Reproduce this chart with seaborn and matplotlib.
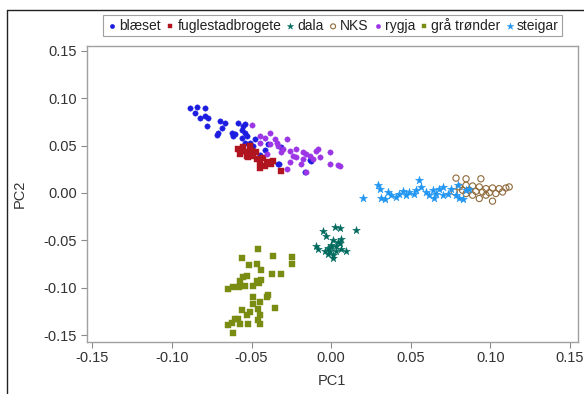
import matplotlib
matplotlib.use("Agg")
import matplotlib.pyplot as plt
from matplotlib.lines import Line2D
import seaborn as sns
import pandas as pd

# ---- data (PC1, PC2) per breed ----
blaeset_x = [-0.0886, -0.0844, -0.0792, -0.0855, -0.0823, -0.0792, -0.0773, -0.0781, -0.0698, -0.0667,
             -0.0688, -0.0710, -0.0719, -0.0625, -0.0604, -0.0617, -0.0585, -0.0542, -0.0542, -0.0531,
             -0.0510, -0.0540, -0.0398, -0.0416, -0.0448, -0.0335, -0.0312, -0.0135, -0.0166, -0.0480,
             -0.0560, -0.0554, -0.0562, -0.0490, -0.0329, -0.0128]
blaeset_y = [0.0896, 0.0906, 0.0896, 0.0844, 0.0790, 0.0810, 0.0790, 0.0710, 0.0760, 0.0740,
             0.0690, 0.0635, 0.0608, 0.0635, 0.0618, 0.0604, 0.0740, 0.0722, 0.0635, 0.0604,
             0.0530, 0.0530, 0.0514, 0.0448, 0.0396, 0.0305, 0.0480, 0.0344, 0.0220, 0.0570,
             0.0660, 0.0708, 0.0580, 0.0500, 0.0300, 0.0340]

fugl_x = [-0.0584, -0.0552, -0.0510, -0.0531, -0.0521, -0.0490, -0.0468, -0.0448, -0.0406, -0.0416,
          -0.0448, -0.0364, -0.0312, -0.0500, -0.0562, -0.0531, -0.0575, -0.0470, -0.0430, -0.0380]
fugl_y = [0.0462, 0.0480, 0.0497, 0.0427, 0.0375, 0.0392, 0.0358, 0.0323, 0.0323, 0.0288,
          0.0260, 0.0340, 0.0236, 0.0444, 0.0444, 0.0392, 0.0410, 0.0430, 0.0370, 0.0310]

dala_x = [-0.0051, 0.0022, 0.0053, 0.0158, -0.0030, 0.0011, 0.0064, 0.0001, 0.0033, -0.0097,
          -0.0083, -0.0009, 0.0011, 0.0033, 0.0064, 0.0095, -0.0020, 0.0053, -0.0040, 0.0011,
          0.0000, 0.0040, -0.0020]
dala_y = [-0.0406, -0.0365, -0.0372, -0.0389, -0.0458, -0.0493, -0.0483, -0.0545, -0.0563, -0.0563,
          -0.0587, -0.0615, -0.0650, -0.0615, -0.0597, -0.0615, -0.0580, -0.0528, -0.0615, -0.0684,
          -0.0570, -0.0520, -0.0640]

nks_x = [0.0784, 0.0847, 0.0940, 0.0805, 0.0847, 0.0888, 0.0930, 0.0972, 0.1013, 0.1055,
         0.1097, 0.1118, 0.0773, 0.0825, 0.0867, 0.0909, 0.0950, 0.0993, 0.1034, 0.1076,
         0.1013, 0.0930, 0.0847, 0.0888, 0.0972]
nks_y = [0.0156, 0.0149, 0.0149, 0.0063, 0.0080, 0.0073, 0.0063, 0.0045, 0.0052, 0.0045,
         0.0052, 0.0063, 0.0010, 0.0028, 0.0028, 0.0017, 0.0010, 0.0003, -0.0007, 0.0010,
         -0.0087, -0.0059, -0.0007, -0.0024, -0.0024]

rygja_x = [-0.0500, -0.0448, -0.0416, -0.0385, -0.0354, -0.0280, -0.0333, -0.0302, -0.0260, -0.0218,
           -0.0177, -0.0155, -0.0093, -0.0009, -0.0072, -0.0009, 0.0053, -0.0260, -0.0280, -0.0218,
           -0.0177, -0.0406, -0.0448, -0.0385, -0.0343, -0.0312, -0.0239, -0.0135, -0.0114, -0.0187,
           -0.0155, -0.0085, 0.0040]
rygja_y = [0.0715, 0.0600, 0.0583, 0.0635, 0.0566, 0.0566, 0.0497, 0.0462, 0.0444, 0.0462,
           0.0427, 0.0410, 0.0444, 0.0427, 0.0375, 0.0305, 0.0288, 0.0323, 0.0253, 0.0375,
           0.0358, 0.0410, 0.0530, 0.0514, 0.0530, 0.0427, 0.0392, 0.0392, 0.0358, 0.0305,
           0.0219, 0.0460, 0.0290]

graa_x = [-0.0458, -0.0562, -0.0515, -0.0468, -0.0443, -0.0364, -0.0249, -0.0243, -0.0374, -0.0312,
          -0.0531, -0.0552, -0.0573, -0.0615, -0.0646, -0.0577, -0.0542, -0.0490, -0.0452, -0.0441,
          -0.0465, -0.0490, -0.0448, -0.0396, -0.0406, -0.0490, -0.0458, -0.0510, -0.0562, -0.0354,
          -0.0531, -0.0448, -0.0458, -0.0448, -0.0604, -0.0584, -0.0625, -0.0646, -0.0521, -0.0573,
          -0.0615]
graa_y = [-0.0597, -0.0684, -0.0760, -0.0753, -0.0816, -0.0667, -0.0677, -0.0747, -0.0858, -0.0851,
          -0.0875, -0.0892, -0.0927, -0.0990, -0.1014, -0.0997, -0.0979, -0.0979, -0.0955, -0.0920,
          -0.0927, -0.1101, -0.1153, -0.1073, -0.1101, -0.1177, -0.1229, -0.1257, -0.1240, -0.1212,
          -0.1292, -0.1292, -0.1344, -0.1378, -0.1326, -0.1326, -0.1372, -0.1396, -0.1378, -0.1378,
          -0.1483]

steigar_x = [0.0199, 0.0293, 0.0304, 0.0314, 0.0356, 0.0377, 0.0408, 0.0429, 0.0471, 0.0523,
             0.0554, 0.0565, 0.0596, 0.0637, 0.0659, 0.0679, 0.0700, 0.0648, 0.0794, 0.0805,
             0.0825, 0.0784, 0.0731, 0.0617, 0.0491, 0.0335, 0.0450, 0.0533, 0.0700, 0.0753,
             0.0847, 0.0867]
steigar_y = [-0.0059, 0.0080, 0.0045, -0.0059, 0.0010, -0.0024, -0.0042, -0.0007, -0.0024, -0.0007,
             0.0132, 0.0063, 0.0010, 0.0028, -0.0007, 0.0045, 0.0063, -0.0059, 0.0080, -0.0059,
             -0.0066, -0.0024, -0.0007, -0.0024, 0.0010, -0.0066, 0.0017, 0.0028, -0.0024, 0.0045,
             0.0028, 0.0045]

groups = ["blæset", "fuglestadbrogete", "dala", "NKS", "rygja", "grå trønder", "steigar"]
xs = [blaeset_x, fugl_x, dala_x, nks_x, rygja_x, graa_x, steigar_x]
ys = [blaeset_y, fugl_y, dala_y, nks_y, rygja_y, graa_y, steigar_y]

colors = ["#1c1ce0", "#b0151f", "#006b5e", "#8f6a3c", "#9b35e6", "#7b8c12", "#2196f3"]
markers = ["o", "s", "*", "o", "o", "s", "*"]
sizes = [15, 15, 34, 20, 15, 15, 38]
hollow = [False, False, False, True, False, False, False]

df = pd.concat([pd.DataFrame({"PC1": x, "PC2": y, "group": g}) for g, x, y in zip(groups, xs, ys)],
               ignore_index=True)

sns.set_style("white")
plt.rcParams["font.family"] = ["Liberation Sans", "DejaVu Sans"]

fig = plt.figure(figsize=(5.84, 3.94), dpi=100)
ax = fig.add_axes([86.7 / 584, 1 - 341.7 / 394, (577.7 - 86.7) / 584, (341.7 - 46) / 394])

for g, c, m, s, h in zip(groups, colors, markers, sizes, hollow):
    sub = df[df["group"] == g]
    if h:
        sns.scatterplot(data=sub, x="PC1", y="PC2", ax=ax, marker=m, s=s, color=c,
                        facecolor="none", edgecolor=c, linewidth=0.8, label=g, legend=False)
    else:
        sns.scatterplot(data=sub, x="PC1", y="PC2", ax=ax, marker=m, s=s, color=c,
                        edgecolor=c, linewidth=0.3, label=g, legend=False)

ax.set_xlim(-0.1535, 0.1548)
ax.set_ylim(-0.157, 0.155)
ticks = [-0.15, -0.10, -0.05, 0.00, 0.05, 0.10, 0.15]
ax.set_xticks(ticks)
ax.set_yticks(ticks)
ax.set_xticklabels([f"{t:.2f}" for t in ticks])
ax.set_yticklabels([f"{t:.2f}" for t in ticks])
ax.tick_params(axis="both", direction="out", length=4, width=0.8, color="#8a8a8a",
               labelsize=10.5, labelcolor="#333333", pad=3, bottom=True, left=True)
for sp in ax.spines.values():
    sp.set_color("#a0a0a0")
    sp.set_linewidth(1.0)
ax.set_xlabel("PC1", fontsize=10.5, color="#333333", labelpad=6)
ax.set_ylabel("PC2", fontsize=10.5, color="#333333", labelpad=12)

leg = fig.legend(loc="center", bbox_to_anchor=(332.5 / 584, 1 - 25.5 / 394), ncol=7,
                 fontsize=10, frameon=True, fancybox=False, edgecolor="#888888",
                 handletextpad=0.05, columnspacing=0.22, borderpad=0.2, handlelength=0.9,
                 markerscale=0.8, borderaxespad=0)
leg.get_frame().set_linewidth(0.8)
for t in leg.get_texts():
    t.set_color("#222222")

# outer frame lines (left and top) of the original screenshot
fig.add_artist(Line2D([7 / 584, 7 / 584], [0, 1 - 10 / 394], transform=fig.transFigure,
                      color="#222222", linewidth=1.0))
fig.add_artist(Line2D([7 / 584, 1], [1 - 10 / 394, 1 - 10 / 394], transform=fig.transFigure,
                      color="#222222", linewidth=1.0))

fig.savefig("out.png", dpi=100)
